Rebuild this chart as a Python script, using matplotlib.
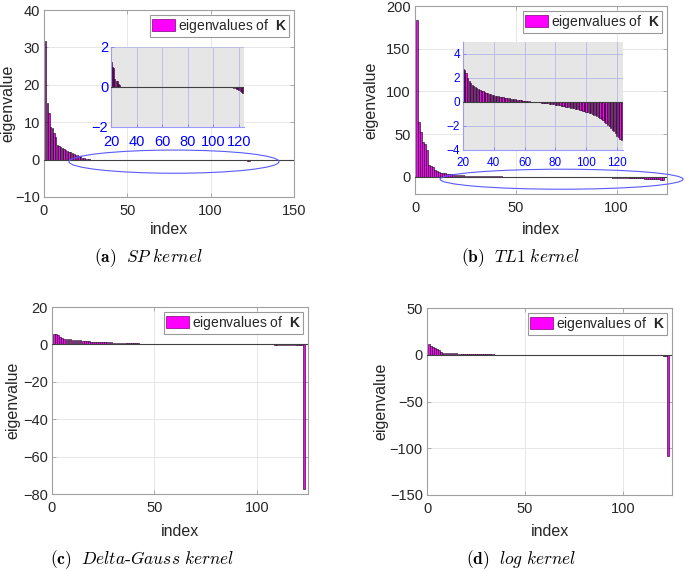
import numpy as np
import matplotlib
matplotlib.use("Agg")
import matplotlib.pyplot as plt
from matplotlib.patches import Ellipse, Patch

plt.rcParams['font.family'] = ['Liberation Sans', 'DejaVu Sans']
plt.rcParams['mathtext.fontset'] = 'custom'
plt.rcParams['mathtext.rm'] = 'Liberation Sans'
plt.rcParams['mathtext.bf'] = 'Liberation Sans:bold'

# ---------------- data ----------------
sp_vals = [31.8, 15.1, 12.4, 8.8, 8.4, 7.1, 6.0, 4.0, 3.6, 3.3,
           3.0, 2.8, 2.5, 2.3, 2.1, 1.9, 1.7, 1.5, 1.35, 1.24,
           1.0, 0.95, 0.4, 0.32, 0.28, 0.15, 0.08,
           0.0, 0.0, 0.0, 0.0, 0.0, 0.0, 0.0, 0.0, 0.0, 0.0,
           0.0, 0.0, 0.0, 0.0, 0.0, 0.0, 0.0, 0.0, 0.0, 0.0,
           0.0, 0.0, 0.0, 0.0, 0.0, 0.0, 0.0, 0.0, 0.0, 0.0,
           0.0, 0.0, 0.0, 0.0, 0.0, 0.0, 0.0, 0.0, 0.0, 0.0,
           0.0, 0.0, 0.0, 0.0, 0.0, 0.0, 0.0, 0.0, 0.0, 0.0,
           0.0, 0.0, 0.0, 0.0, 0.0, 0.0, 0.0, 0.0, 0.0, 0.0,
           0.0, 0.0, 0.0, 0.0, 0.0, 0.0, 0.0, 0.0, 0.0, 0.0,
           0.0, 0.0, 0.0, 0.0, 0.0, 0.0, 0.0, 0.0, 0.0, 0.0,
           0.0, 0.0, 0.0, 0.0, 0.0, 0.0, 0.0,
           -0.02, -0.04, -0.06, -0.09, -0.12, -0.16, -0.2, -0.25, -0.3]

tl1_vals = [183.7, 64.5, 52.8, 41.0, 38.0, 31.0, 13.7, 12.5, 11.7, 7.8,
            6.5, 5.5, 5.0, 4.5, 4.0, 3.7, 3.4, 3.2, 3.0,
            2.77, 2.65, 2.45, 2.0, 1.75, 1.55, 1.42, 1.33, 1.25, 1.17,
            1.08, 1.01, 0.95, 0.89, 0.84, 0.79, 0.74, 0.7, 0.65, 0.61,
            0.57, 0.54, 0.51, 0.48, 0.45, 0.43, 0.40, 0.37, 0.35, 0.33,
            0.31, 0.29, 0.27, 0.25, 0.23, 0.2, 0.18, 0.16, 0.14, 0.12,
            0.1, 0.08, 0.07, 0.05, 0.04, 0.02, 0.01, 0.0, -0.01, -0.02,
            -0.03, -0.05, -0.06, -0.08, -0.09, -0.11, -0.13, -0.15, -0.17, -0.2,
            -0.22, -0.25, -0.27, -0.29, -0.31, -0.34, -0.36, -0.39, -0.41, -0.44,
            -0.47, -0.5, -0.53, -0.56, -0.59, -0.62, -0.65, -0.69, -0.72, -0.76,
            -0.8, -0.85, -0.9, -0.95, -1.0, -1.06, -1.12, -1.19, -1.26, -1.33,
            -1.42, -1.52, -1.63, -1.75, -1.88, -2.0, -2.15, -2.3, -2.45, -2.62,
            -2.8, -2.95, -3.1, -3.2]

dg_vals = [5.8, 5.5, 4.9, 3.7, 3.4, 3.1, 2.9, 2.8, 2.7, 2.6,
           2.5, 2.35, 2.2, 2.1, 2.0, 1.9, 1.75, 1.65, 1.55, 1.5,
           1.45, 1.4, 1.35, 1.3, 1.25, 1.2, 1.15, 1.1, 1.05, 1.0,
           0.95, 0.9, 0.85, 0.8, 0.76, 0.72, 0.68, 0.64, 0.6, 0.56,
           0.52, 0.49, 0.46, 0.43, 0.4, 0.37, 0.34, 0.31, 0.28, 0.26,
           0.24, 0.22, 0.2, 0.18, 0.16, 0.14, 0.12, 0.1, 0.09, 0.08,
           0.07, 0.065, 0.06, 0.055, 0.05, 0.045, 0.04, 0.036, 0.032, 0.028,
           0.025, 0.022, 0.019, 0.016, 0.013, 0.011, 0.009, 0.007, 0.005, 0.003,
           0.002, 0.001, 0.0, 0.0, -0.001, -0.002, -0.003, -0.004, -0.005, -0.006,
           -0.007, -0.008, -0.01, -0.012, -0.014, -0.016, -0.018, -0.02, -0.022, -0.025,
           -0.028, -0.031, -0.034, -0.037, -0.04, -0.044, -0.048, -0.052, -0.056, -0.06,
           -0.065, -0.07, -0.075, -0.08, -0.09, -0.1, -0.11, -0.12, -0.13, -0.15,
           -0.17, -0.2, -77.3]

log_vals = [11.5, 9.8, 8.0, 7.5, 6.2, 5.1, 3.0, 2.3, 2.1, 1.9,
            1.8, 1.7, 1.6, 1.5, 1.4, 1.3, 1.2, 1.1, 1.0, 0.9,
            0.85, 0.8, 0.75, 0.7, 0.65, 0.6, 0.55, 0.5, 0.46, 0.42,
            0.38, 0.34, 0.3, 0.27, 0.24, 0.21, 0.18, 0.15, 0.12, 0.1,
            0.09, 0.08, 0.07, 0.06, 0.05, 0.045, 0.04, 0.035, 0.03, 0.025,
            0.02, 0.018, 0.016, 0.014, 0.012, 0.01, 0.008, 0.006, 0.004, 0.002,
            0.0, 0.0, 0.0, 0.0, 0.0, -0.002, -0.004, -0.006, -0.008, -0.01,
            -0.012, -0.014, -0.016, -0.018, -0.02, -0.022, -0.025, -0.028, -0.031, -0.034,
            -0.037, -0.04, -0.044, -0.048, -0.052, -0.056, -0.06, -0.065, -0.07, -0.075,
            -0.08, -0.085, -0.09, -0.1, -0.11, -0.12, -0.13, -0.14, -0.15, -0.16,
            -0.17, -0.18, -0.19, -0.2, -0.21, -0.22, -0.24, -0.26, -0.28, -0.3,
            -0.32, -0.35, -0.38, -0.41, -0.45, -0.5, -0.55, -0.6, -0.7, -0.8,
            -0.9, -1.0, -108.2]

captions = [r"$\mathbf{(a)}\ \ SP\ kernel$",
            r"$\mathbf{(b)}\ \ TL1\ kernel$",
            r"$\mathbf{(c)}\ \ Delta\text{-}Gauss\ kernel$",
            r"$\mathbf{(d)}\ \ log\ kernel$"]

legend_label = r"eigenvalues of  $\mathbf{K}$"
x_label = "index"
y_label = "eigenvalue"

# ---------------- style ----------------
BAR_FACE = '#ff00ff'
TXT = '#262626'
SPINE = '#a0a0a0'
GRID = '#e3e3e3'
BLUE = '#0000ff'

W, H = 685, 571
fig = plt.figure(figsize=(W / 100, H / 100), dpi=100)


def px_axes(l, t, r, b):
    return fig.add_axes([l / W, 1 - b / H, (r - l) / W, (b - t) / H])


def style_main(ax, box, xlim, ylim, xticks, yticks, ylab_x, xlab_y):
    l, t, r, b = box
    ax.set_xlim(*xlim)
    ax.set_ylim(*ylim)
    ax.set_xticks(xticks)
    ax.set_yticks(yticks)
    for s in ax.spines.values():
        s.set_color(SPINE)
        s.set_linewidth(0.8)
    ax.tick_params(direction='in', length=3, width=0.6, colors=SPINE,
                   labelcolor=TXT, labelsize=10.5, top=True, right=True)
    ax.tick_params(axis='x', pad=5)
    ax.tick_params(axis='y', pad=3)
    ax.grid(True, color=GRID, linewidth=0.6)
    ax.set_axisbelow(True)
    ax.set_xlabel(x_label, fontsize=11.5, color=TXT, va='center')
    ax.set_ylabel(y_label, fontsize=11.5, color=TXT, va='center')
    ax.yaxis.set_label_coords((ylab_x - l) / (r - l), 0.5)
    ax.xaxis.set_label_coords(0.5, -(xlab_y - b) / (b - t))


def draw_bars(ax, vals):
    idx = np.arange(1, len(vals) + 1)
    ax.bar(idx, vals, width=0.8, color=BAR_FACE, edgecolor='black',
           linewidth=0.4, zorder=2)
    ax.axhline(0, color='#404040', linewidth=0.8, zorder=3)


def add_legend(ax):
    h = Patch(facecolor=BAR_FACE, edgecolor='#7f007f', linewidth=0.5)
    leg = ax.legend([h], [legend_label], loc='upper right', fontsize=10,
                    fancybox=False, framealpha=1, edgecolor='#999999',
                    handlelength=1.7, handleheight=1.0, handletextpad=0.2,
                    borderpad=0.15, borderaxespad=0.35)
    leg.get_frame().set_linewidth(0.8)
    for t in leg.get_texts():
        t.set_color(TXT)


def style_inset(ax, xlim, ylim, xticks, yticks, lsize, xpad):
    ax.set_facecolor('#e6e6e6')
    ax.set_xlim(*xlim)
    ax.set_ylim(*ylim)
    ax.set_xticks(xticks)
    ax.set_yticks(yticks)
    for s in ax.spines.values():
        s.set_color('#9a9aff')
        s.set_linewidth(0.8)
    ax.spines['top'].set_visible(False)
    ax.spines['right'].set_visible(False)
    ax.tick_params(direction='in', length=2.5, width=0.6, colors='#7a7aff',
                   labelcolor=BLUE, labelsize=lsize)
    ax.tick_params(axis='x', pad=xpad)
    ax.tick_params(axis='y', pad=2)
    ax.grid(True, color='#b8b8e6', linewidth=0.6)
    ax.set_axisbelow(True)


# (a) SP kernel
box_a = (44, 10, 294, 197)
axa = px_axes(*box_a)
style_main(axa, box_a, (0, 150), (-10, 40), [0, 50, 100, 150],
           [-10, 0, 10, 20, 30, 40], 8, 230)
draw_bars(axa, sp_vals)
add_legend(axa)
axa.add_patch(Ellipse((78, -0.55), 126, 6.2, fill=False, edgecolor='#5a5aff',
                      linewidth=0.8, clip_on=False, zorder=4))
ia = px_axes(111, 47, 244, 127)
style_inset(ia, (20, 124), (-2, 2), [20, 40, 60, 80, 100, 120], [-2, 0, 2], 10.5, 6)
draw_bars(ia, sp_vals)

# (b) TL1 kernel
box_b = (415, 6, 667, 194)
axb = px_axes(*box_b)
style_main(axb, box_b, (0, 125), (-20, 200), [0, 50, 100],
           [0, 50, 100, 150, 200], 371, 229)
draw_bars(axb, tl1_vals)
add_legend(axb)
axb.add_patch(Ellipse((72.7, -2.7), 120.5, 23.4, fill=False, edgecolor='#5a5aff',
                      linewidth=0.8, clip_on=False, zorder=4))
ib = px_axes(463, 42, 623, 150)
style_inset(ib, (20, 124), (-4, 5), [20, 40, 60, 80, 100, 120], [-4, -2, 0, 2, 4], 8.5, 5)
draw_bars(ib, tl1_vals)

# (c) Delta-Gauss kernel
box_c = (52, 307, 308, 494)
axc = px_axes(*box_c)
style_main(axc, box_c, (0, 125), (-80, 20), [0, 50, 100],
           [-80, -60, -40, -20, 0, 20], 13, 532)
draw_bars(axc, dg_vals)
add_legend(axc)

# (d) log kernel
box_d = (427, 308, 672, 495)
axd = px_axes(*box_d)
style_main(axd, box_d, (0, 125), (-150, 50), [0, 50, 100],
           [-150, -100, -50, 0, 50], 381, 532)
draw_bars(axd, log_vals)
add_legend(axd)

# captions
cap_pos = [(148, 258), (520, 258), (142, 560), (521, 560)]
for (cx, cy), cap in zip(cap_pos, captions):
    fig.text(cx / W, 1 - cy / H, cap, ha='center', va='center', fontsize=12.5,
             math_fontfamily='cm', color='black')

fig.savefig('out.png', dpi=100)
